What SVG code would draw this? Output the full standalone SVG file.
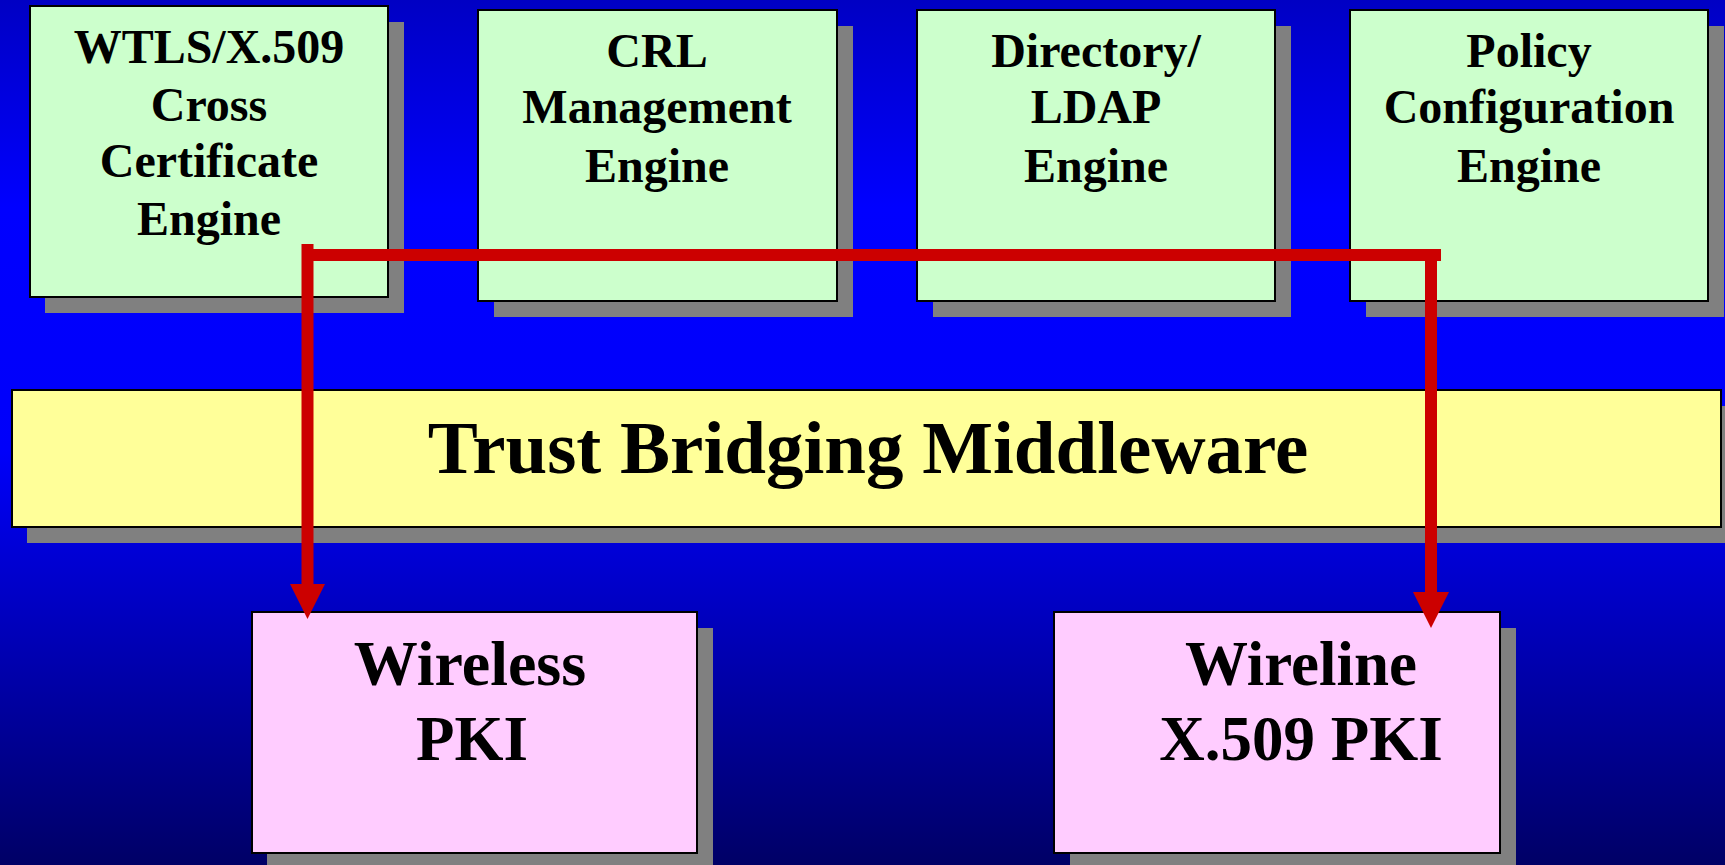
<svg xmlns="http://www.w3.org/2000/svg" width="1725" height="865" viewBox="0 0 1725 865">
  <defs>
    <linearGradient id="bg" x1="0" y1="0" x2="0" y2="1">
      <stop offset="0" stop-color="#0000c4"/>
      <stop offset="0.24" stop-color="#0000ff"/>
      <stop offset="0.52" stop-color="#0000fa"/>
      <stop offset="1" stop-color="#000066"/>
    </linearGradient>
    <style>
      .shadow { fill: #808080; }
      .box { stroke: #000; stroke-width: 2; }
      .engine { fill: #ccffcc; }
      .bridge { fill: #ffff99; }
      .pki { fill: #ffccff; }
      .lbl { font-family: "Liberation Serif", "Times New Roman", serif; font-weight: bold; fill: #000; text-anchor: middle; }
      .s50 { font-size: 48px; }
      .s63 { font-size: 63px; }
      .s75 { font-size: 75px; }
      .wire { stroke: #cc0000; stroke-width: 12; fill: none; }
      .head { fill: #cc0000; }
    </style>
  </defs>

  <rect width="1725" height="865" fill="url(#bg)"/>

  <!-- engines -->
  <g id="wtls-engine">
    <rect class="shadow" x="45" y="22" width="359" height="291"/>
    <rect class="box engine" x="30" y="6" width="358" height="291"/>
    <text class="lbl s50" x="209" y="63">WTLS/X.509</text>
    <text class="lbl s50" x="209" y="121">Cross</text>
    <text class="lbl s50" x="209" y="177">Certificate</text>
    <text class="lbl s50" x="209" y="235">Engine</text>
  </g>

  <g id="crl-engine">
    <rect class="shadow" x="494" y="26" width="359" height="291"/>
    <rect class="box engine" x="478" y="10" width="359" height="291"/>
    <text class="lbl s50" x="657" y="67">CRL</text>
    <text class="lbl s50" x="657" y="123">Management</text>
    <text class="lbl s50" x="657" y="182">Engine</text>
  </g>

  <g id="directory-engine">
    <rect class="shadow" x="933" y="26" width="358" height="291"/>
    <rect class="box engine" x="917" y="10" width="358" height="291"/>
    <text class="lbl s50" x="1096" y="67">Directory/</text>
    <text class="lbl s50" x="1096" y="123">LDAP</text>
    <text class="lbl s50" x="1096" y="182">Engine</text>
  </g>

  <g id="policy-engine">
    <rect class="shadow" x="1366" y="26" width="358" height="291"/>
    <rect class="box engine" x="1350" y="10" width="358" height="291"/>
    <text class="lbl s50" x="1529" y="67">Policy</text>
    <text class="lbl s50" x="1529" y="123">Configuration</text>
    <text class="lbl s50" x="1529" y="182">Engine</text>
  </g>

  <!-- middleware bar -->
  <g id="middleware">
    <rect class="shadow" x="27" y="406" width="1710" height="137"/>
    <rect class="box bridge" x="12" y="390" width="1709" height="137"/>
    <text class="lbl s75" x="868" y="473">Trust Bridging Middleware</text>
  </g>

  <!-- PKI domains -->
  <g id="wireless-pki">
    <rect class="shadow" x="267" y="628" width="446" height="250"/>
    <rect class="box pki" x="252" y="612" width="445" height="241"/>
    <text class="lbl s63" x="470" y="685" style="font-size:64px">Wireless</text>
    <text class="lbl s63" x="472" y="760">PKI</text>
  </g>

  <g id="wireline-pki">
    <rect class="shadow" x="1070" y="628" width="446" height="250"/>
    <rect class="box pki" x="1054" y="612" width="446" height="241"/>
    <text class="lbl s63" x="1301" y="685">Wireline</text>
    <text class="lbl s63" x="1301" y="760">X.509 PKI</text>
  </g>

  <!-- connectors -->
  <g id="connectors">
    <line class="wire" x1="307.5" y1="244" x2="307.5" y2="590"/>
    <line class="wire" x1="302" y1="255" x2="1441" y2="255"/>
    <line class="wire" x1="1431" y1="249" x2="1431" y2="598"/>
    <polygon class="head" points="290,584 325,584 307.5,619"/>
    <polygon class="head" points="1413,592 1449,592 1431,628"/>
  </g>
</svg>
